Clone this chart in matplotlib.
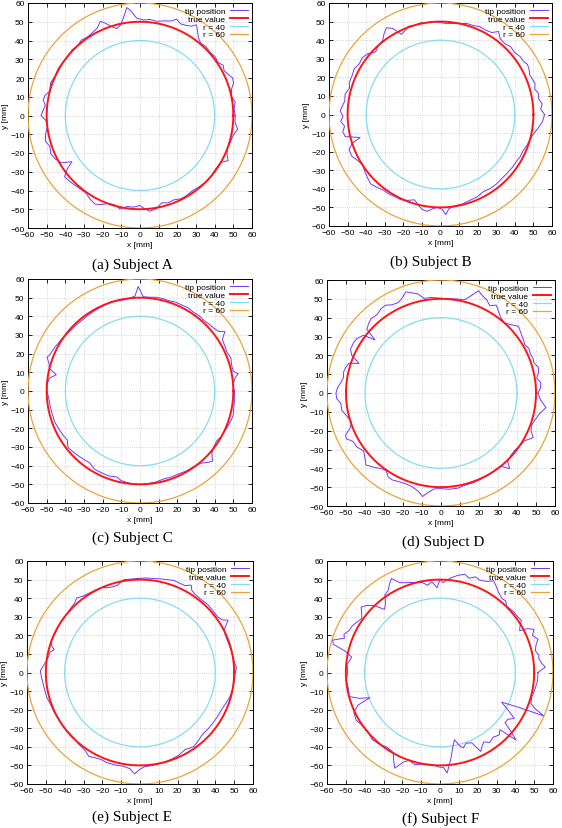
"""Tip position traces vs. true circle for six subjects (2x3 grid)."""

import numpy as np
import matplotlib
matplotlib.use('Agg')
import matplotlib.pyplot as plt

# --- data: (angle deg, radius mm) of the tip trace ---
ang_a = [0, 4, 8, 12, 16, 19, 22, 25, 28, 31, 34, 38, 42, 46, 50, 53, 56, 58, 60, 63, 66, 69, 72, 76, 80,
         84, 88, 92, 95, 97, 99, 102, 105, 108, 111, 113, 116, 120, 124, 128, 132, 136, 140, 145, 150, 155,
         160, 165, 168, 171, 174, 177, 180, 183, 187, 191, 195, 199, 203, 207, 211, 214, 216, 219, 223, 227,
         231, 235, 239, 243, 246, 250, 254, 258, 262, 266, 270, 273, 276, 280, 284, 288, 292, 296, 300, 305,
         310, 315, 320, 325, 330, 333, 336, 340, 344, 348, 352, 356, 360]
rad_a = [51, 50.5, 51.5, 50, 51, 53, 53.5, 52, 51, 52, 50.5, 51, 50.5, 51, 50.5, 52, 55, 57, 55, 54, 53.5, 55,
         53, 52, 51, 51.5, 51, 52, 56, 58, 54, 49.5, 48, 50, 53, 54.5, 52, 51, 50.5, 51, 50, 50.5, 50, 50,
         50.5, 50, 51, 50, 52, 52.5, 51, 52, 53, 50.5, 50, 51.5, 52.5, 51, 52, 51, 49, 44, 48, 52, 51.5, 51,
         50.5, 50.5, 52, 53, 52, 50, 49.5, 51, 49, 49, 48, 50, 51.3, 50.5, 48, 49, 48.5, 49.5, 49.5, 49, 49.5,
         50, 50, 49.5, 50, 53, 51, 50, 50.5, 51, 52.8, 51, 51]

ang_b = [0, 3, 6, 9, 12, 15, 18, 21, 24, 27, 30, 33, 36, 40, 44, 48, 52, 55, 58, 62, 66, 70, 74, 78, 82, 86,
         90, 94, 98, 102, 106, 110, 113, 116, 119, 122, 125, 128, 132, 136, 140, 144, 148, 152, 156, 160,
         164, 168, 172, 175, 178, 181, 184, 187, 190, 193, 196, 198, 201, 205, 209, 213, 217, 221, 225, 229,
         233, 237, 241, 245, 249, 253, 256, 259, 262, 265, 268, 271, 273, 275, 279, 284, 289, 294, 299, 304,
         309, 314, 319, 324, 328, 332, 336, 340, 344, 348, 352, 356, 360]
rad_b = [56, 54, 55, 53.5, 54, 52.5, 53.5, 53, 52.5, 53.5, 54, 53, 53, 52, 52.5, 51.5, 52, 54.5, 52, 51.5,
         51.8, 51, 51, 50, 49.5, 49, 49.5, 50, 50, 50.5, 50, 50.5, 49, 48, 53, 55, 53, 50.5, 50, 48.5, 51, 52,
         51.5, 52.5, 52, 52, 51, 52.5, 52, 53, 54, 52.5, 53.8, 52, 53.4, 52.6, 45, 50, 52.6, 52.8, 51, 49.8,
         51, 52, 53, 52, 51, 51, 50.5, 50.6, 49.5, 48, 50, 52, 52.6, 51, 50, 51, 54, 51, 49.8, 49.5, 48.8,
         48.5, 47.5, 48, 48, 47.7, 47.8, 48, 48, 48.5, 48.5, 49.3, 50, 51, 53, 55, 56]

ang_c = [0, 4, 8, 10, 12, 16, 20, 24, 28, 32, 35, 37, 40, 44, 48, 52, 56, 60, 64, 68, 72, 76, 80, 84, 88, 91,
         93, 96, 100, 104, 108, 112, 116, 120, 125, 130, 135, 140, 145, 150, 154, 158, 160, 163, 166, 169,
         172, 176, 180, 185, 190, 195, 200, 205, 210, 214, 218, 222, 226, 230, 235, 240, 245, 250, 255, 258,
         262, 266, 270, 275, 280, 285, 290, 295, 300, 305, 310, 314, 316, 319, 323, 327, 331, 335, 340, 345,
         350, 355, 360]
rad_c = [50.5, 50, 51.5, 53.4, 51, 51, 51.8, 51, 51.5, 52, 55.5, 53, 52, 51.5, 51, 51.3, 51, 51.5, 51.2,
         51.3, 50.8, 51, 51, 50.5, 50.5, 56, 51, 50, 49.5, 50, 50.3, 49.8, 49.5, 49.4, 49.2, 49, 49.2, 49.4,
         50.2, 50.8, 51.5, 52, 53, 51, 50, 45.7, 49, 50, 49.8, 49, 48.8, 48.6, 48.6, 48, 47.5, 47, 49, 48.5,
         48, 47.5, 47, 48.5, 48.4, 48.5, 47.7, 49, 49.5, 50, 50, 49.8, 49.5, 48.8, 49, 49, 49.5, 49.7, 50.5,
         53, 54, 51, 49.5, 49, 50, 50.3, 51, 51.6, 51, 51, 50.5]

ang_d = [0, 3, 6, 9, 12, 15, 18, 21, 24, 27, 30, 34, 38, 41, 44, 48, 52, 55, 58, 61, 64, 67, 70, 73, 76, 80,
         84, 88, 92, 96, 100, 103, 106, 109, 112, 115, 119, 122, 125, 129, 133, 136, 139, 141, 143, 147, 150,
         154, 157, 160, 162, 165, 168, 171, 174, 177, 180, 183, 186, 190, 194, 198, 201, 204, 206, 209, 213,
         217, 221, 224, 228, 232, 235, 238, 241, 245, 249, 253, 257, 260, 263, 266, 270, 275, 280, 285, 290,
         295, 300, 305, 309, 312, 314, 318, 322, 326, 330, 334, 337, 340, 344, 348, 352, 356, 360]
rad_d = [51, 52.5, 52.8, 51, 52.5, 53, 51.5, 51.8, 51.4, 52, 51, 52, 53, 54, 52, 50, 51, 52.8, 55, 53, 55, 56,
         57.8, 54, 51, 50.7, 50.3, 50.2, 50.5, 51, 51, 54, 55.3, 56.8, 54.5, 53, 53.5, 55, 54.8, 53.5, 54, 53,
         51.7, 44.7, 51, 53, 53.2, 53, 51, 45.9, 51, 52, 52.5, 52, 53, 54.5, 55.3, 55, 53, 53, 51, 49.6, 51,
         55, 55.4, 53, 52.7, 51, 53, 55, 53, 51, 50.3, 52.5, 52.8, 52, 51.7, 52, 53.5, 55.8, 53, 51, 50.8,
         51.3, 51.3, 50.5, 50.6, 50.3, 50.2, 49.8, 50, 54, 50.5, 49.5, 49.3, 50, 50.8, 54, 51.5, 50.6, 51.5,
         53, 55.8, 52.5, 51]

ang_e = [0, 3, 6, 10, 15, 20, 25, 28, 31, 33, 36, 40, 45, 50, 55, 58, 60, 63, 67, 70, 74, 78, 82, 86, 90, 95,
         100, 104, 107, 110, 114, 118, 122, 126, 130, 133, 137, 141, 146, 150, 155, 160, 163, 165, 167, 171,
         175, 179, 182, 185, 190, 195, 200, 205, 210, 215, 220, 225, 230, 235, 239, 242, 246, 250, 255, 260,
         264, 267, 270, 273, 277, 281, 285, 290, 295, 300, 303, 306, 310, 315, 320, 325, 330, 335, 340, 345,
         350, 355, 360]
rad_e = [50.5, 51.3, 50.5, 50, 49.8, 49.5, 49.7, 51, 54.6, 52, 51, 51, 51.3, 51, 51.2, 52, 54.3, 52.5, 52.5,
         52.7, 52, 51.5, 51.1, 51, 50.7, 50.5, 50.7, 48.5, 48.3, 48.6, 50, 50.3, 50.5, 51, 52.3, 51, 50.5, 50,
         50, 50, 49.8, 50, 49, 47.2, 49, 49.5, 51, 52.9, 52.5, 52, 51.5, 51.3, 50.5, 50.3, 50, 50, 49.8, 49.7,
         50.5, 51, 52.7, 51.8, 51.2, 51.6, 51.5, 51.2, 52, 54.6, 52, 50.7, 50.5, 50.2, 50, 49.5, 49, 47.9,
         48.5, 49, 48, 47, 47.2, 47.3, 47.5, 47.7, 48.5, 49.5, 50, 50.3, 50.5]

ang_f = [0, 3, 5, 8, 10, 13, 16, 19, 22, 25, 27, 28, 30, 33, 36, 40, 45, 48, 50, 54, 57, 60, 63, 67, 70, 73,
         76, 80, 84, 88, 90, 92, 95, 98, 101, 105, 108, 111, 114, 117, 119, 122, 125, 128, 131, 134, 137, 140,
         143, 145, 149, 152, 155, 158, 160, 163, 165, 167, 170, 175, 180, 185, 190, 195, 198, 200, 202, 205,
         210, 215, 220, 225, 230, 235, 240, 243, 245, 248, 251, 255, 260, 265, 270, 272, 274, 277, 280, 282,
         285, 287, 290, 294, 297, 300, 302, 305, 309, 313, 316, 318, 320, 322, 325, 328, 331, 334, 336, 337,
         339, 341, 345, 350, 355, 360]
rad_f = [52, 56, 54.4, 53, 53.3, 52, 53, 55, 53, 55, 52, 47.9, 49, 51.5, 51, 51, 50.3, 52, 51.6, 53, 55, 57,
         55, 54, 54.8, 53, 54.5, 53, 51, 48.4, 50, 45.6, 49, 47.4, 49.3, 50, 51, 51.7, 53, 56.8, 55, 52, 51,
         47, 45, 50, 53, 54.7, 52, 50.7, 52, 53, 53.3, 55, 54, 59.6, 58.7, 52, 47.6, 49.5, 49, 50, 49.4, 50,
         45, 39.6, 47, 50.5, 51.4, 50, 49.7, 51, 50.3, 49, 49.7, 54, 56.8, 52, 50, 51.4, 50, 49.7, 51, 51,
         54.2, 47, 40, 37, 41, 42.4, 40.5, 41.4, 47.7, 45, 44, 46, 44.8, 46, 44.3, 54.4, 48.8, 43.8, 44, 46.5,
         41, 36.4, 47, 59.8, 54, 51, 50.5, 51.2, 52, 52]

subjects = ['A', 'B', 'C', 'D', 'E', 'F']
tip_angles = [ang_a, ang_b, ang_c, ang_d, ang_e, ang_f]
tip_radii = [rad_a, rad_b, rad_c, rad_d, rad_e, rad_f]
R_TRUE, R_IN, R_OUT = 50, 40, 60
ticks = list(range(-60, 61, 10))

# axes boxes in pixels: left, right, top, bottom  (figure is 562 x 829)
W, H = 562, 829
boxes = [(28, 252, 4, 229), (329, 552, 4, 227),
         (28, 252, 280, 504), (327, 555, 281, 507),
         (27, 253, 562, 785), (327, 553, 562, 785)]
captions_xy = [(132, 265), (431, 262), (132, 538), (443, 542), (132, 817), (441, 819)]

C_TIP, C_TRUE, C_IN, C_OUT = '#7436ff', '#ff1414', '#84dcf2', '#eaa437'

plt.rcParams['font.family'] = ['Liberation Sans', 'DejaVu Sans']
fig = plt.figure(figsize=(W / 100, H / 100), dpi=100)
t = np.linspace(0, 2 * np.pi, 400)

for i, (l, r, tp, bt) in enumerate(boxes):
    ax = fig.add_axes([l / W, 1 - bt / H, (r - l) / W, (bt - tp) / H])
    th = np.deg2rad(tip_angles[i])
    rr = np.array(tip_radii[i])
    ax.plot(rr * np.cos(th), rr * np.sin(th), color=C_TIP, lw=0.7, label='tip position', zorder=4)
    ax.plot(R_TRUE * np.cos(t), R_TRUE * np.sin(t), color=C_TRUE, lw=1.4, label='true value', zorder=5)
    ax.plot(R_IN * np.cos(t), R_IN * np.sin(t), color=C_IN, lw=0.9, label='r = 40', zorder=3)
    ax.plot(R_OUT * np.cos(t), R_OUT * np.sin(t), color=C_OUT, lw=0.9, label='r = 60', zorder=3)

    ax.set_xlim(-60, 60)
    ax.set_ylim(-60, 60)
    ax.set_xticks(ticks)
    ax.set_yticks(ticks)
    ax.grid(True, color='#c8c8c8', ls=':', lw=0.6)
    ax.tick_params(direction='in', length=3, width=0.6, labelsize=6, pad=2.5,
                   top=True, right=True)
    for s in ax.spines.values():
        s.set_linewidth(0.7)
    ax.set_xlabel('x [mm]', fontsize=6, labelpad=1.5)
    ax.set_ylabel('y [mm]', fontsize=6, labelpad=1)
    ax.legend(loc='upper right', frameon=False, markerfirst=False, fontsize=6,
              handlelength=2.2, handletextpad=0.5, labelspacing=0.0,
              borderpad=0.3, borderaxespad=0.2)

    cx, cy = captions_xy[i]
    fig.text(cx / W, 1 - cy / H, f'({chr(97 + i)}) Subject {subjects[i]}',
             ha='center', va='center', fontsize=11, family='Liberation Serif')

fig.savefig('out.png', dpi=100)
